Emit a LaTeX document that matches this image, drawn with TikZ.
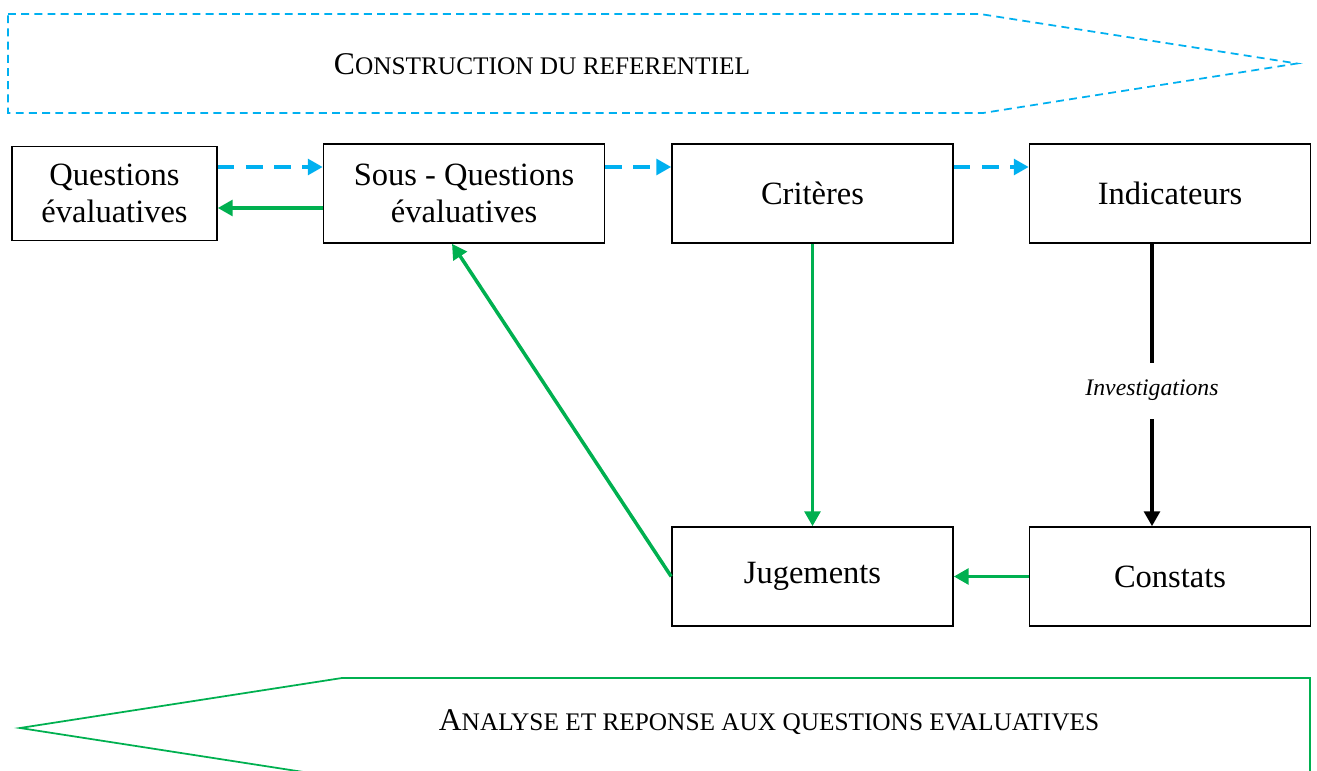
\documentclass[tikz,border=0pt]{standalone}
\usepackage{fontspec}
\setmainfont{Liberation Serif}
\usetikzlibrary{arrows.meta,positioning}

\definecolor{bleuciel}{HTML}{00B0F0}
\definecolor{vert}{HTML}{00B050}

% petites capitales faites a la main
\newcommand{\pcap}[2]{{\fontsize{18}{20}\selectfont #1}{\fontsize{14.4}{16}\selectfont #2}}

\begin{document}
\begin{tikzpicture}[
      every node/.style={on grid},
      boite/.style={draw,line width=0.9pt,minimum width=5.62cm,minimum height=1.98cm,
        align=center,font=\fontsize{18.5}{21}\selectfont},
      petiteboite/.style={boite,minimum width=4.1cm,minimum height=1.88cm},
      bleu/.style={->,bleuciel,line width=2pt,dash pattern=on 9.5pt off 6.5pt},
      vertf/.style={->,vert,line width=2pt},
      >={Triangle[length=8.5pt,width=9pt]}
    ]
    \clip (0,0) rectangle (26.34,-15.42);

    % construction du referentiel
    \draw[bleuciel,line width=1pt,dash pattern=on 4.5pt off 3pt]
      (0.16,-0.28) -- (19.6,-0.28) -- (25.94,-1.27) -- (19.66,-2.26) -- (0.16,-2.26) -- cycle;
    \node (constr) at (10.84,-1.28) {\pcap{C}{ONSTRUCTION DU REFERENTIEL}};

    % boites du haut
    \node[petiteboite] (q) at (2.29,-3.87) {Questions\\évaluatives};
    \node[boite, right=6.99cm of q] (sq) {Sous - Questions\\évaluatives};
    \node[boite, right=6.97cm of sq] (crit) {Critères};
    \node[boite, right=7.15cm of crit] (ind) {Indicateurs};

    % boites du bas
    \node[boite, below=7.66cm of crit] (jug) {Jugements};
    \node[boite, below=7.66cm of ind] (cons) {Constats};

    % les fleches
    \draw[bleu] ([yshift=5.3mm]q.east) -- ([yshift=5.3mm]sq.west);
    \draw[bleu] ([yshift=5.3mm]sq.east) -- ([yshift=5.3mm]crit.west);
    \draw[bleu] ([yshift=5.3mm]crit.east) -- ([yshift=5.3mm]ind.west);
    \draw[vertf] ([yshift=-2.9mm]sq.west) -- ([yshift=-2.9mm]q.east);
    \draw[vertf] (crit) -- (jug);
    \draw[vertf] (cons) -- (jug);
    \draw[vertf] (jug.west) -- ([xshift=-2.4mm]sq.south);
    \draw[->,line width=2pt] ([xshift=-3.6mm]ind.south) --
      node[pos=0.52,fill=white,inner ysep=10pt,font=\fontsize{13.5}{16}\selectfont\itshape] (invest) {Investigations}
      ([xshift=-3.6mm]cons.north);

    % analyse et reponse
    \draw[vert,line width=1pt]
      (0.4,-14.56) -- (6.84,-13.56) -- (26.2,-13.56) -- (26.2,-15.56) -- (6.84,-15.56) -- cycle;
    \node (analyse) at (15.38,-14.44) {\pcap{A}{NALYSE ET REPONSE AUX QUESTIONS EVALUATIVES}};
\end{tikzpicture}
\end{document}
